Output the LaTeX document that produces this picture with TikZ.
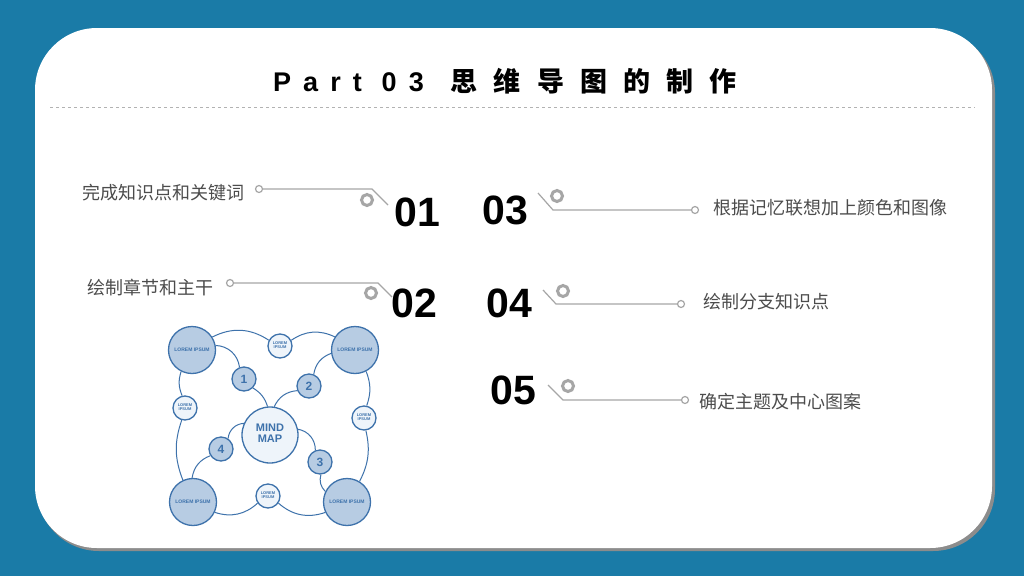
\documentclass[tikz,border=0pt]{standalone}
\usepackage{fontspec}
\setmainfont{Liberation Sans}
\newfontfamily\cjk{Noto Sans CJK SC}
\newfontfamily\cjktitle[LetterSpace=60]{Noto Sans CJK SC}
\newfontfamily\lattitle[LetterSpace=45]{Liberation Sans}
\usetikzlibrary{positioning}
\definecolor{bgblue}{HTML}{1A7BA7}
\definecolor{mapline}{HTML}{3E72AB}
\definecolor{mapfill}{HTML}{B7CCE3}
\definecolor{mapcore}{HTML}{EEF4FA}
\tikzset{%
    dot/.style={circle,draw=gray!70,line width=1.2pt,inner sep=0pt,minimum size=7pt},
    ring/.style={circle,draw=gray!70,line width=3pt,inner sep=0pt,minimum size=11pt},
    num/.style={font=\fontsize{41}{41}\selectfont\bfseries,inner sep=0pt},
    lbl/.style={font=\cjk\fontsize{18}{18}\selectfont,text=black!70,inner sep=0pt}
}

\begin{document}
\begin{tikzpicture}[
        x=1pt,y=-1pt,
        lnk/.style={gray!70,line width=1.2pt},
        bub/.style={circle,draw=mapline,line width=1.3pt,fill=mapfill,inner sep=0pt},
        wire/.style={mapline,line width=1pt}
        ]
        \fill[bgblue] (0,0) rectangle (1024,576);
        \fill[black!45] (37,31) [rounded corners=62] rectangle (995,551);
        \fill[white] (35,28) [rounded corners=62] rectangle (992,548);
        \draw[gray!60,dashed] (50,107) -- (975,107);
        \node[anchor=base] (title) at (505,91) {\fontsize{27}{27}\selectfont\bfseries\lattitle Part 03\quad\cjktitle 思维导图的制作};

        % numbers
        \node[num] (n1) at (417,212) {01};
        \node[num] (n2) at (414,303) {02};
        \node[num] (n3) at (505,210) {03};
        \node[num] (n4) at (509,303) {04};
        \node[num] (n5) at (513,390) {05};

        % left items
        \node[dot] (d1) at (259,189) {};
        \node[ring] (r1) at (367,200) {};
        \node[lbl,anchor=east] (t1) at (245,193) {完成知识点和关键词};
        \draw[lnk] (d1) -- (372,189) -- (388,205);
        \node[dot] (d2) at (230,283) {};
        \node[ring] (r2) at (371,293) {};
        \node[lbl,anchor=east] (t2) at (214,288) {绘制章节和主干};
        \draw[lnk] (d2) -- (378,283) -- (392,297);

        % right items
        \node[dot] (d3) at (695,210) {};
        \node[ring] (r3) at (557,196) {};
        \node[lbl,anchor=west] (t3) at (713,208) {根据记忆联想加上颜色和图像};
        \draw[lnk] (538,193) -- (553,210) -- (d3);
        \node[dot] (d4) at (681,304) {};
        \node[ring] (r4) at (563,291) {};
        \node[lbl,anchor=west] (t4) at (703,302) {绘制分支知识点};
        \draw[lnk] (543,290) -- (556,304) -- (d4);
        \node[dot] (d5) at (685,400) {};
        \node[ring] (r5) at (568,386) {};
        \node[lbl,anchor=west] (t5) at (699,402) {确定主题及中心图案};
        \draw[lnk] (548,385) -- (563,400) -- (d5);

        % mind map
        \node[bub,minimum size=56pt,fill=mapcore] (core) at (270,435) {\bfseries\color{mapline}\fontsize{11}{11}\selectfont\begin{tabular}{@{}c@{}}MIND\\MAP\end{tabular}};
        \foreach \nm/\px/\py in {tl/192/350,tr/355/350,bl/193/502,br/347/502}
            \node[bub,minimum size=47pt] (\nm) at (\px,\py) {\color{mapline}\tiny\bfseries LOREM IPSUM};
        \foreach \nm/\px/\py/\t in {k1/244/379/1,k2/309/386/2,k3/320/462/3,k4/221/449/4}
            \node[bub,minimum size=24pt] (\nm) at (\px,\py) {\color{mapline}\bfseries\large\t};
        \foreach \nm/\px/\py in {st/280/346,sl/185/408,sr/364/418,sb/268/496}
            \node[bub,minimum size=24pt,fill=mapcore] (\nm) at (\px,\py) {\color{mapline}\fontsize{4}{4}\selectfont\bfseries\begin{tabular}{@{}c@{}}LOREM\\IPSUM\end{tabular}};
        \draw[wire] (tl) to[bend left=30] (st);
        \draw[wire] (st) to[bend left=30] (tr);
        \draw[wire] (tl) to[bend right=20] (sl);
        \draw[wire] (sl) to[bend right=20] (bl);
        \draw[wire] (tr) to[bend left=20] (sr);
        \draw[wire] (sr) to[bend left=20] (br);
        \draw[wire] (bl) to[bend right=30] (sb);
        \draw[wire] (sb) to[bend right=30] (br);
        \draw[wire] (tl) to[bend left=40] (k1);
        \draw[wire] (k1) to[bend left=20] (core);
        \draw[wire] (core) to[bend left=30] (k2);
        \draw[wire] (k2) to[bend left=30] (tr);
        \draw[wire] (core) to[bend left=40] (k3);
        \draw[wire] (k3) to[bend right=30] (br);
        \draw[wire] (core) to[bend right=40] (k4);
        \draw[wire] (k4) to[bend right=30] (bl);
    \end{tikzpicture}
\end{document}
